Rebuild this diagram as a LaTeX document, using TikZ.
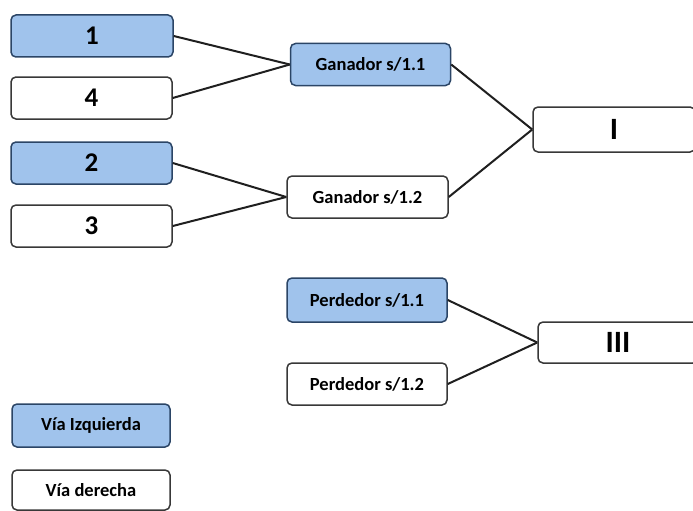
\documentclass[tikz,border=0pt]{standalone}
\usepackage{fontspec}
\setmainfont{Carlito}
\definecolor{boxblue}{HTML}{A0C3EC}
\definecolor{blueedge}{HTML}{2B4566}
\definecolor{grayedge}{HTML}{383838}
\begin{document}
\begin{tikzpicture}[x=1pt,y=-1pt,
  base/.style={rounded corners=5pt,line width=1.5pt,inner sep=0pt,font=\bfseries},
  bluebox/.style={base,draw=blueedge,fill=boxblue},
  whitebox/.style={base,draw=grayedge,fill=white},
  big/.style={font=\bfseries\fontsize{27}{27}\selectfont},
  huge/.style={font=\bfseries\fontsize{31}{31}\selectfont},
  small/.style={font=\bfseries\fontsize{18.5}{19}\selectfont},
  link/.style={line width=2pt,draw=black!88}]
\useasboundingbox (0,0) rectangle (693,511);
% first round
\node[bluebox,big,minimum width=162pt,minimum height=42pt] (n1) at (92,36) {1};
\node[whitebox,big,minimum width=161pt,minimum height=42pt] (n4) at (91.5,98) {4};
\node[bluebox,big,minimum width=161pt,minimum height=42pt] (n2) at (91.5,163) {2};
\node[whitebox,big,minimum width=161pt,minimum height=42pt] (n3) at (91.5,226) {3};
% semis
\node[bluebox,small,minimum width=160pt,minimum height=42pt] (g1) at (370.5,64.5) {Ganador s/1.1};
\node[whitebox,small,minimum width=161pt,minimum height=42pt] (g2) at (367.5,197) {Ganador s/1.2};
% final
\node[whitebox,huge,minimum width=162pt,minimum height=45pt] (f1) at (614,129.5) {I};
% third place
\node[bluebox,small,minimum width=160pt,minimum height=44pt] (p1) at (367,300) {Perdedor s/1.1};
\node[whitebox,small,minimum width=160pt,minimum height=42pt] (p2) at (367,384) {Perdedor s/1.2};
\node[whitebox,huge,minimum width=160pt,minimum height=41pt] (f3) at (618,342.5) {III};
% legend
\node[bluebox,small,minimum width=158pt,minimum height=43pt] (l1) at (91,425.5) {Vía Izquierda};
\node[whitebox,small,minimum width=158pt,minimum height=40pt] (l2) at (91,490) {Vía derecha};
% connectors
\draw[link] (n1.east) -- (g1.west);
\draw[link] (n4.east) -- (g1.west);
\draw[link] (n2.east) -- (g2.west);
\draw[link] (n3.east) -- (g2.west);
\draw[link] (g1.east) -- (f1.west);
\draw[link] (g2.east) -- (f1.west);
\draw[link] (p1.east) -- (f3.west);
\draw[link] (p2.east) -- (f3.west);
\end{tikzpicture}
\end{document}
